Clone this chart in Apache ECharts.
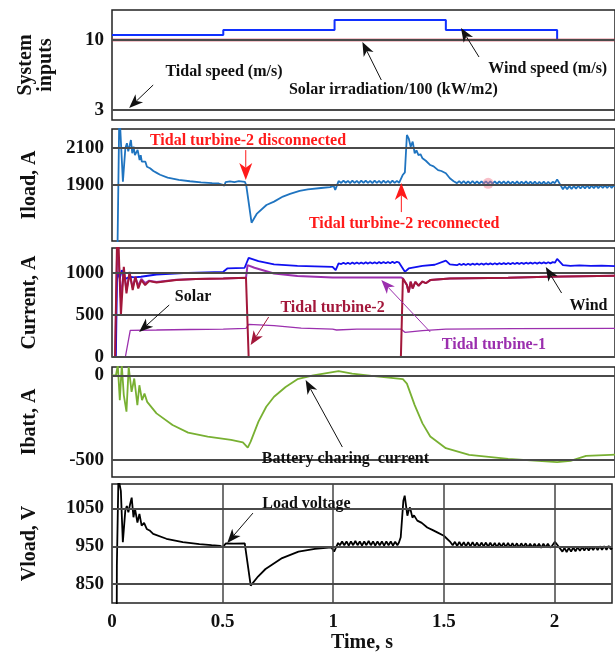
<!DOCTYPE html>
<html><head><meta charset="utf-8">
<script src="https://cdn.jsdelivr.net/npm/echarts@6/dist/echarts.min.js"></script>
<style>html,body{margin:0;padding:0;background:#fff}#c{width:615px;height:657px}</style>
</head><body><div id="c"></div>
<script>
// ---------------- data ----------------
const timeTicks = [0, 0.5, 1, 1.5, 2];
const timeGrid = [0.5, 1, 1.5, 2];
const inputTicks = [3, 10];
const iloadTicks = [1900, 2100];
const currentTicks = [0, 500, 1000];
const ibattTicks = [-500, 0];
const vloadTicks = [850, 950, 1050];

// Panel 1: system inputs
const windSpeed = [[0,10.5],[0.5,10.5],[0.5,11],[1,11],[1,12],[1.5,12],[1.5,11],[2,11],[2,10],[2.26,10]];
const solarIrr = [[0,10],[2.26,10]];
const tidalSpeed = [[0,3],[2.26,3]];

// Panel 2: load current
const iload = [[0,0],[0.015,0],[0.024,1500],[0.033,2300],[0.049,1918],[0.060,2097],[0.067,2124],[0.073,2080],[0.079,2110],
 [0.085,2141],[0.091,2070],[0.097,2105],[0.103,2060],[0.109,2052],[0.115,2088],[0.124,2034],[0.129,2060],[0.134,2025],
 [0.141,2016],[0.150,2025],[0.157,1998],[0.165,2008],[0.171,1990],[0.186,1975],[0.201,1965],[0.216,1955],[0.25,1940],
 [0.30,1928],[0.35,1920],[0.40,1914],[0.45,1910],[0.48,1908],[0.495,1902],[0.505,1896],[0.51,1915],[0.53,1920],[0.55,1916],
 [0.57,1921],[0.597,1917],[0.603,1900],[0.627,1698],[0.65,1745],[0.694,1793],[0.728,1811],[0.768,1838],[0.80,1852],
 [0.843,1868],[0.88,1876],[0.939,1884],[0.98,1889],[0.996,1895],[1.003,1873],[1.018,1921],
 [1.03,1911],[1.04,1923],[1.05,1912],[1.06,1922],[1.07,1910],[1.08,1923],[1.09,1911],[1.10,1922],[1.11,1910],[1.12,1923],
 [1.13,1911],[1.14,1924],[1.15,1911],[1.16,1922],[1.17,1910],[1.18,1923],[1.19,1911],[1.20,1922],[1.21,1910],[1.22,1923],
 [1.23,1911],[1.24,1922],[1.25,1910],[1.26,1923],[1.27,1911],[1.28,1922],[1.29,1912],
 [1.298,1915],[1.307,1955],[1.316,1968],[1.325,2168],[1.333,2150],
 [1.342,2105],[1.351,2132],[1.36,2070],[1.368,2085],[1.377,2060],[1.386,2065],[1.395,2043],[1.41,2030],[1.43,2007],
 [1.445,2000],[1.465,1980],[1.48,1975],[1.50,1963],[1.518,1936],[1.535,1920],
 [1.55,1910],[1.56,1921],[1.57,1909],[1.58,1921],[1.59,1908],[1.60,1920],[1.61,1908],[1.62,1921],[1.63,1908],[1.64,1920],
 [1.65,1907],[1.66,1920],[1.67,1908],[1.68,1919],[1.69,1907],[1.70,1920],[1.71,1907],[1.72,1919],[1.73,1906],[1.74,1919],
 [1.75,1907],[1.76,1920],[1.77,1906],[1.78,1919],[1.79,1906],[1.80,1918],[1.81,1906],[1.82,1919],[1.83,1905],[1.84,1918],
 [1.85,1906],[1.86,1919],[1.87,1905],[1.88,1918],[1.89,1905],[1.90,1918],[1.91,1904],[1.92,1917],[1.93,1905],[1.94,1918],
 [1.95,1904],[1.96,1917],[1.97,1905],[1.98,1917],[1.99,1910],[2.0,1930],[2.026,1877],
 [2.035,1893],[2.045,1878],[2.055,1894],[2.065,1879],[2.075,1895],[2.085,1880],[2.095,1896],[2.105,1881],[2.115,1896],
 [2.125,1882],[2.135,1897],[2.145,1882],[2.155,1897],[2.165,1883],[2.175,1898],[2.185,1883],[2.195,1898],[2.205,1884],
 [2.215,1898],[2.225,1884],[2.235,1899],[2.245,1885],[2.255,1899],[2.26,1890]];
const iloadDot = [[1.69,1909]];

// Panel 3: source currents
const windCurrent = [[0,0],[0.0175,0],[0.023,1016],[0.035,937],[0.044,1036],[0.058,929],[0.079,957],[0.1,950],[0.13,957],
 [0.2,984],[0.342,1004],[0.5,1016],[0.518,1056],[0.596,1064],[0.614,1183],[0.658,1143],[0.728,1104],[0.833,1088],
 [0.991,1076],[1.005,1036],[1.018,1116],
 [1.03,1108],[1.04,1124],[1.05,1109],[1.06,1125],[1.07,1110],[1.08,1126],[1.09,1111],[1.10,1127],[1.11,1112],[1.12,1128],
 [1.13,1113],[1.14,1129],[1.15,1114],[1.16,1130],[1.17,1115],[1.18,1131],[1.19,1116],[1.20,1132],[1.21,1117],[1.22,1133],
 [1.23,1118],[1.24,1134],[1.25,1119],[1.26,1135],[1.27,1120],[1.28,1136],[1.29,1125],[1.298,1143],
 [1.316,1016],[1.333,1056],[1.395,1088],[1.45,1100],[1.5,1150],[1.518,1104],
 [1.55,1095],[1.56,1110],[1.57,1097],[1.58,1111],[1.59,1098],[1.60,1112],[1.61,1099],[1.62,1113],[1.63,1100],[1.64,1114],
 [1.65,1101],[1.66,1115],[1.67,1102],[1.68,1116],[1.69,1103],[1.70,1117],[1.71,1104],[1.72,1118],[1.73,1105],[1.74,1119],
 [1.75,1106],[1.76,1120],[1.77,1107],[1.78,1121],[1.79,1108],[1.80,1122],[1.81,1109],[1.82,1123],[1.83,1110],[1.84,1124],
 [1.85,1111],[1.86,1125],[1.87,1112],[1.88,1126],[1.89,1113],[1.90,1127],[1.91,1114],[1.92,1128],[1.93,1115],[1.94,1129],
 [1.95,1116],[1.96,1130],[1.97,1117],[1.98,1131],[1.99,1125],[2.0,1170],[2.026,1096],[2.06,1088],
 [2.1,1092],[2.15,1086],[2.2,1090],[2.26,1085]];
const tidal2Current = [[0,0],[0.014,0],[0.023,1453],[0.03,1294],[0.04,500],[0.053,1076],[0.065,758],[0.079,1016],[0.093,798],
 [0.105,957],[0.118,818],[0.132,917],[0.149,858],[0.167,905],[0.2,889],[0.289,917],[0.377,929],[0.5,937],[0.602,945],
 [0.614,0],[1.298,0],[1.307,937],[1.325,858],[1.333,770],[1.342,897],[1.351,818],[1.363,897],[1.377,850],[1.395,900],
 [1.41,880],[1.43,917],[1.518,937],[1.78,945],[1.956,957],[2.26,969]];
const tidal1Current = [[0,0],[0.014,0],[0.023,1250],[0.03,1150],[0.04,700],[0.053,1040],[0.065,800],[0.079,990],[0.093,830],
 [0.105,950],[0.118,850],[0.132,930],[0.149,880],[0.167,910],[0.2,895],[0.289,920],[0.377,930],[0.5,937],[0.602,945],
 [0.609,1096],[0.64,1064],[0.728,996],[0.833,965],[0.991,949],[1.298,949],[1.307,937],[1.325,858],[1.333,770],[1.342,897],
 [1.351,818],[1.363,897],[1.377,850],[1.395,900],[1.41,880],[1.43,917],[1.518,937],[1.78,945],[1.956,957],[2.26,969]];
const solarCurrent = [[0,0],[0.06,0],[0.082,318],[0.2,322],[0.35,328],[0.5,333],[0.602,341],[0.614,389],[0.728,373],
 [0.85,345],[0.991,333],[1.009,322],[1.1,333],[1.298,333],[1.316,294],[1.395,314],[1.5,333],[1.8,338],[2.26,341]];

// Panel 4: battery current
const ibatt = [[0,0],[0.0175,0],[0.026,60],[0.035,-146],[0.044,60],[0.053,-116],[0.065,-214],[0.075,50],[0.088,-97],
 [0.1,-18],[0.114,-175],[0.123,-58],[0.135,-146],[0.146,-107],[0.158,-156],[0.2,-224],[0.272,-293],[0.342,-338],
 [0.43,-361],[0.535,-381],[0.588,-395],[0.61,-426],[0.623,-391],[0.658,-273],[0.693,-185],[0.728,-126],[0.78,-68],
 [0.833,-22],[0.904,1],[1.018,25],[1.079,11],[1.167,-3],[1.254,-14],[1.307,-22],[1.325,-48],[1.36,-175],[1.395,-283],
 [1.43,-361],[1.5,-430],[1.605,-469],[1.78,-493],[2.0,-512],[2.06,-505],[2.13,-475],[2.24,-469],[2.26,-468]];

// Panel 5: load voltage
const vload = [[0,0],[0.018,0],[0.022,900],[0.029,1130],[0.040,1097],[0.049,961],[0.060,1044],[0.067,1057],[0.074,1040],
 [0.082,1062],[0.089,1079],[0.097,1027],[0.104,1049],[0.115,1013],[0.124,1036],[0.134,1005],[0.145,1012],[0.157,996],
 [0.17,992],[0.186,983],[0.246,970],[0.32,961],[0.395,956],[0.45,953],[0.49,951],[0.50,948],[0.515,958],[0.55,957],
 [0.60,958],[0.605,955],[0.627,846],[0.66,870],[0.694,890],[0.769,919],[0.843,936],[0.917,943],[0.992,947],[1.004,936],
 [1.022,959],
 [1.03,953],[1.04,963],[1.05,953],[1.06,963],[1.07,952],[1.08,963],[1.09,953],[1.10,964],[1.11,953],[1.12,963],[1.13,952],
 [1.14,963],[1.15,953],[1.16,964],[1.17,953],[1.18,963],[1.19,952],[1.20,963],[1.21,953],[1.22,963],[1.23,952],[1.24,963],
 [1.25,953],[1.26,963],[1.27,952],[1.28,962],[1.29,953],
 [1.297,960],[1.305,974],[1.317,1071],[1.323,1084],[1.335,1031],[1.341,1045],[1.347,1053],
 [1.358,1026],[1.365,1032],[1.38,1018],[1.40,1012],[1.425,1000],[1.45,993],[1.47,987],[1.5,978],[1.53,961],
 [1.54,953],[1.55,962],[1.56,951],[1.57,962],[1.58,951],[1.59,961],[1.60,950],[1.61,961],[1.62,950],[1.63,961],[1.64,950],
 [1.65,960],[1.66,949],[1.67,960],[1.68,950],[1.69,960],[1.70,949],[1.71,960],[1.72,949],[1.73,959],[1.74,948],[1.75,959],
 [1.76,949],[1.77,959],[1.78,948],[1.79,959],[1.80,948],[1.81,958],[1.82,948],[1.83,958],[1.84,947],[1.85,958],[1.86,948],
 [1.87,958],[1.88,947],[1.89,957],[1.90,947],[1.91,957],[1.92,947],[1.93,957],[1.94,946],[1.95,957],[1.96,947],[1.97,957],
 [1.98,947],[1.99,952],[2.002,962],[2.036,936],
 [2.045,946],[2.055,935],[2.065,946],[2.075,936],[2.085,947],[2.095,937],[2.105,948],[2.115,938],[2.125,948],[2.135,939],
 [2.145,949],[2.155,939],[2.165,949],[2.175,940],[2.185,950],[2.195,940],[2.205,950],[2.215,941],[2.225,950],[2.235,941],
 [2.245,951],[2.255,942],[2.26,946]];

// ---------------- chart ----------------
const FONT = '"Liberation Serif", "Times New Roman", serif';
const grids = [
  {top:10, height:110}, {top:129, height:112}, {top:248, height:109}, {top:367, height:110}, {top:484, height:119}
];
const yRanges = [[2,13],[1600,2200],[0,1300],[-600,50],[800,1115]];
const yTicks = [inputTicks, iloadTicks, currentTicks, ibattTicks, vloadTicks];
const yNames = ['System\ninputs','Iload, A','Current, A','Ibatt, A','Vload, V'];
const yNameGaps = [56, 72, 72, 72, 72];
const X_MAX = 2.26;

const chart = echarts.init(document.getElementById('c'), null, {renderer:'canvas'});

const option = {
  animation:false,
  backgroundColor:'#fff',
  grid: grids.map(g => ({left:112, right:-2, top:g.top, height:g.height, show:true,
        borderColor:'#222', borderWidth:1.5, backgroundColor:'transparent'})),
  xAxis: grids.map((g,i) => ({
    type:'value', gridIndex:i, min:0, max:X_MAX, interval:0.5,
    axisLine:{show:false}, axisTick:{show:false}, splitLine:{show:false},
    axisLabel: i===4 ? {show:true, color:'#111', fontFamily:FONT, fontWeight:'bold', fontSize:19, margin:10,
        formatter: v => timeTicks.includes(v) ? String(v) : ''} : {show:false},
    name: i===4 ? 'Time, s' : '', nameLocation:'middle', nameGap:29,
    nameTextStyle:{color:'#111', fontFamily:FONT, fontWeight:'bold', fontSize:20}
  })),
  yAxis: grids.map((g,i) => ({
    type:'value', gridIndex:i, min:yRanges[i][0], max:yRanges[i][1],
    axisLine:{show:false}, axisTick:{show:false}, splitLine:{show:false},
    axisLabel:{show:true, customValues:yTicks[i], formatter: v => String(v),
      color:'#111', fontFamily:FONT, fontWeight:'bold', fontSize:19, margin:8},
    name:yNames[i], nameLocation:'middle', nameRotate:90, nameGap:yNameGaps[i],
    nameTextStyle:{color:'#111', fontFamily:FONT, fontWeight:'bold', fontSize:20, lineHeight:20}
  })),
  series: []
};

// gridlines (drawn under the curves)
grids.forEach((g,i) => {
  const lines = yTicks[i].map(v => ({yAxis:v}));
  if (i===4) timeGrid.forEach(t => lines.push({xAxis:t, lineStyle:{width:1.5, color:'#444'}}));
  option.series.push({type:'line', xAxisIndex:i, yAxisIndex:i, data:[], z:1, silent:true,
    markLine:{symbol:['none','none'], silent:true, label:{show:false}, animation:false,
      lineStyle:{color:'#4a4a4a', width:2, type:'solid'}, data:lines}});
});

function line(data, i, color, width, z){
  return {type:'line', xAxisIndex:i, yAxisIndex:i, data, showSymbol:false, symbol:'none', z:z||3,
    lineStyle:{color, width}, itemStyle:{color}, clip:true};
}
option.series.push(
  line(windSpeed, 0, '#1030ff', 2),
  line(solarIrr, 0, '#d0142c', 2.5),
  line(tidalSpeed, 0, '#111', 2),
  line(iload, 1, '#1f74c0', 1.8),
  {type:'scatter', xAxisIndex:1, yAxisIndex:1, data:iloadDot, symbolSize:11, z:4,
    itemStyle:{color:'rgba(240,110,130,0.55)'}},
  line(solarCurrent, 2, '#9b2fae', 1.3),
  line(tidal1Current, 2, '#9b2fae', 2),
  line(windCurrent, 2, '#1010f0', 1.8),
  line(tidal2Current, 2, '#a3173a', 2),
  line(ibatt, 3, '#78b032', 1.8),
  line(vload, 4, '#000', 1.8)
);
chart.setOption(option);

// ---------------- annotations (placed in data coordinates) ----------------
const notes = [
  {g:0, at:[0.503,6.8], text:'Tidal speed (m/s)', color:'#111'},
  {g:0, at:[1.264,5.0], text:'Solar irradiation/100 (kW/m2)', color:'#111'},
  {g:0, at:[1.958,7.1], text:'Wind speed (m/s)', color:'#111'},
  {g:1, at:[0.611,2136], text:'Tidal turbine-2 disconnected', color:'#ff1a1a'},
  {g:1, at:[1.313,1691], text:'Tidal turbine-2 reconnected', color:'#ff1a1a'},
  {g:2, at:[0.364,715], text:'Solar', color:'#111'},
  {g:2, at:[0.991,584], text:'Tidal turbine-2', color:'#a3173a'},
  {g:2, at:[1.716,143], text:'Tidal turbine-1', color:'#9b2fae'},
  {g:2, at:[2.141,608], text:'Wind', color:'#111'},
  {g:3, at:[1.049,-494], text:'Battery charing  current', color:'#111'},
  {g:4, at:[0.879,1062], text:'Load voltage', color:'#111'}
];
const arrows = [
  {g:0, from:[0.185,5.5], to:[0.077,3.2], color:'#111'},
  {g:0, from:[1.21,6.0], to:[1.125,9.8], color:'#111'},
  {g:0, from:[1.649,8.3], to:[1.568,11.2], color:'#111'},
  {g:1, from:[0.601,2087], to:[0.601,1927], color:'#ff1a1a', big:true},
  {g:1, from:[1.30,1755], to:[1.30,1911], color:'#ff1a1a', big:true},
  {g:2, from:[0.257,620], to:[0.122,298], color:'#111'},
  {g:2, from:[0.704,477], to:[0.623,143], color:'#a3173a'},
  {g:2, from:[1.43,298], to:[1.21,918], color:'#9b2fae'},
  {g:2, from:[2.02,763], to:[1.949,1073], color:'#111'},
  {g:3, from:[1.035,-423], to:[0.87,-27], color:'#111'},
  {g:4, from:[0.637,1038], to:[0.521,959], color:'#111'}
];

function px(g, p){ return chart.convertToPixel({xAxisIndex:g, yAxisIndex:g}, p); }
const elements = [];
notes.forEach(n => {
  const p = px(n.g, n.at);
  elements.push({type:'text', z:100, style:{text:n.text, x:p[0], y:p[1], fill:n.color,
    font:'bold 16px ' + FONT, align:'center', verticalAlign:'middle', textAlign:'center', textVerticalAlign:'middle'}});
});
arrows.forEach(a => {
  const p0 = px(a.g, a.from), p1 = px(a.g, a.to);
  const L = a.big ? 17 : 14, W = a.big ? 6.5 : 5.5;
  const dx = p1[0]-p0[0], dy = p1[1]-p0[1], len = Math.hypot(dx,dy);
  const ux = dx/len, uy = dy/len, nx = -uy, ny = ux;
  const base = [p1[0]-ux*L, p1[1]-uy*L];
  const notch = [p1[0]-ux*L*0.72, p1[1]-uy*L*0.72];
  elements.push({type:'line', z:100, shape:{x1:p0[0], y1:p0[1], x2:notch[0], y2:notch[1]},
    style:{stroke:a.color, lineWidth:1}});
  elements.push({type:'polygon', z:100, shape:{points:[p1, [base[0]+nx*W, base[1]+ny*W], notch, [base[0]-nx*W, base[1]-ny*W]]},
    style:{fill:a.color}});
});
chart.setOption({graphic:{elements}});
</script>
</body></html>
